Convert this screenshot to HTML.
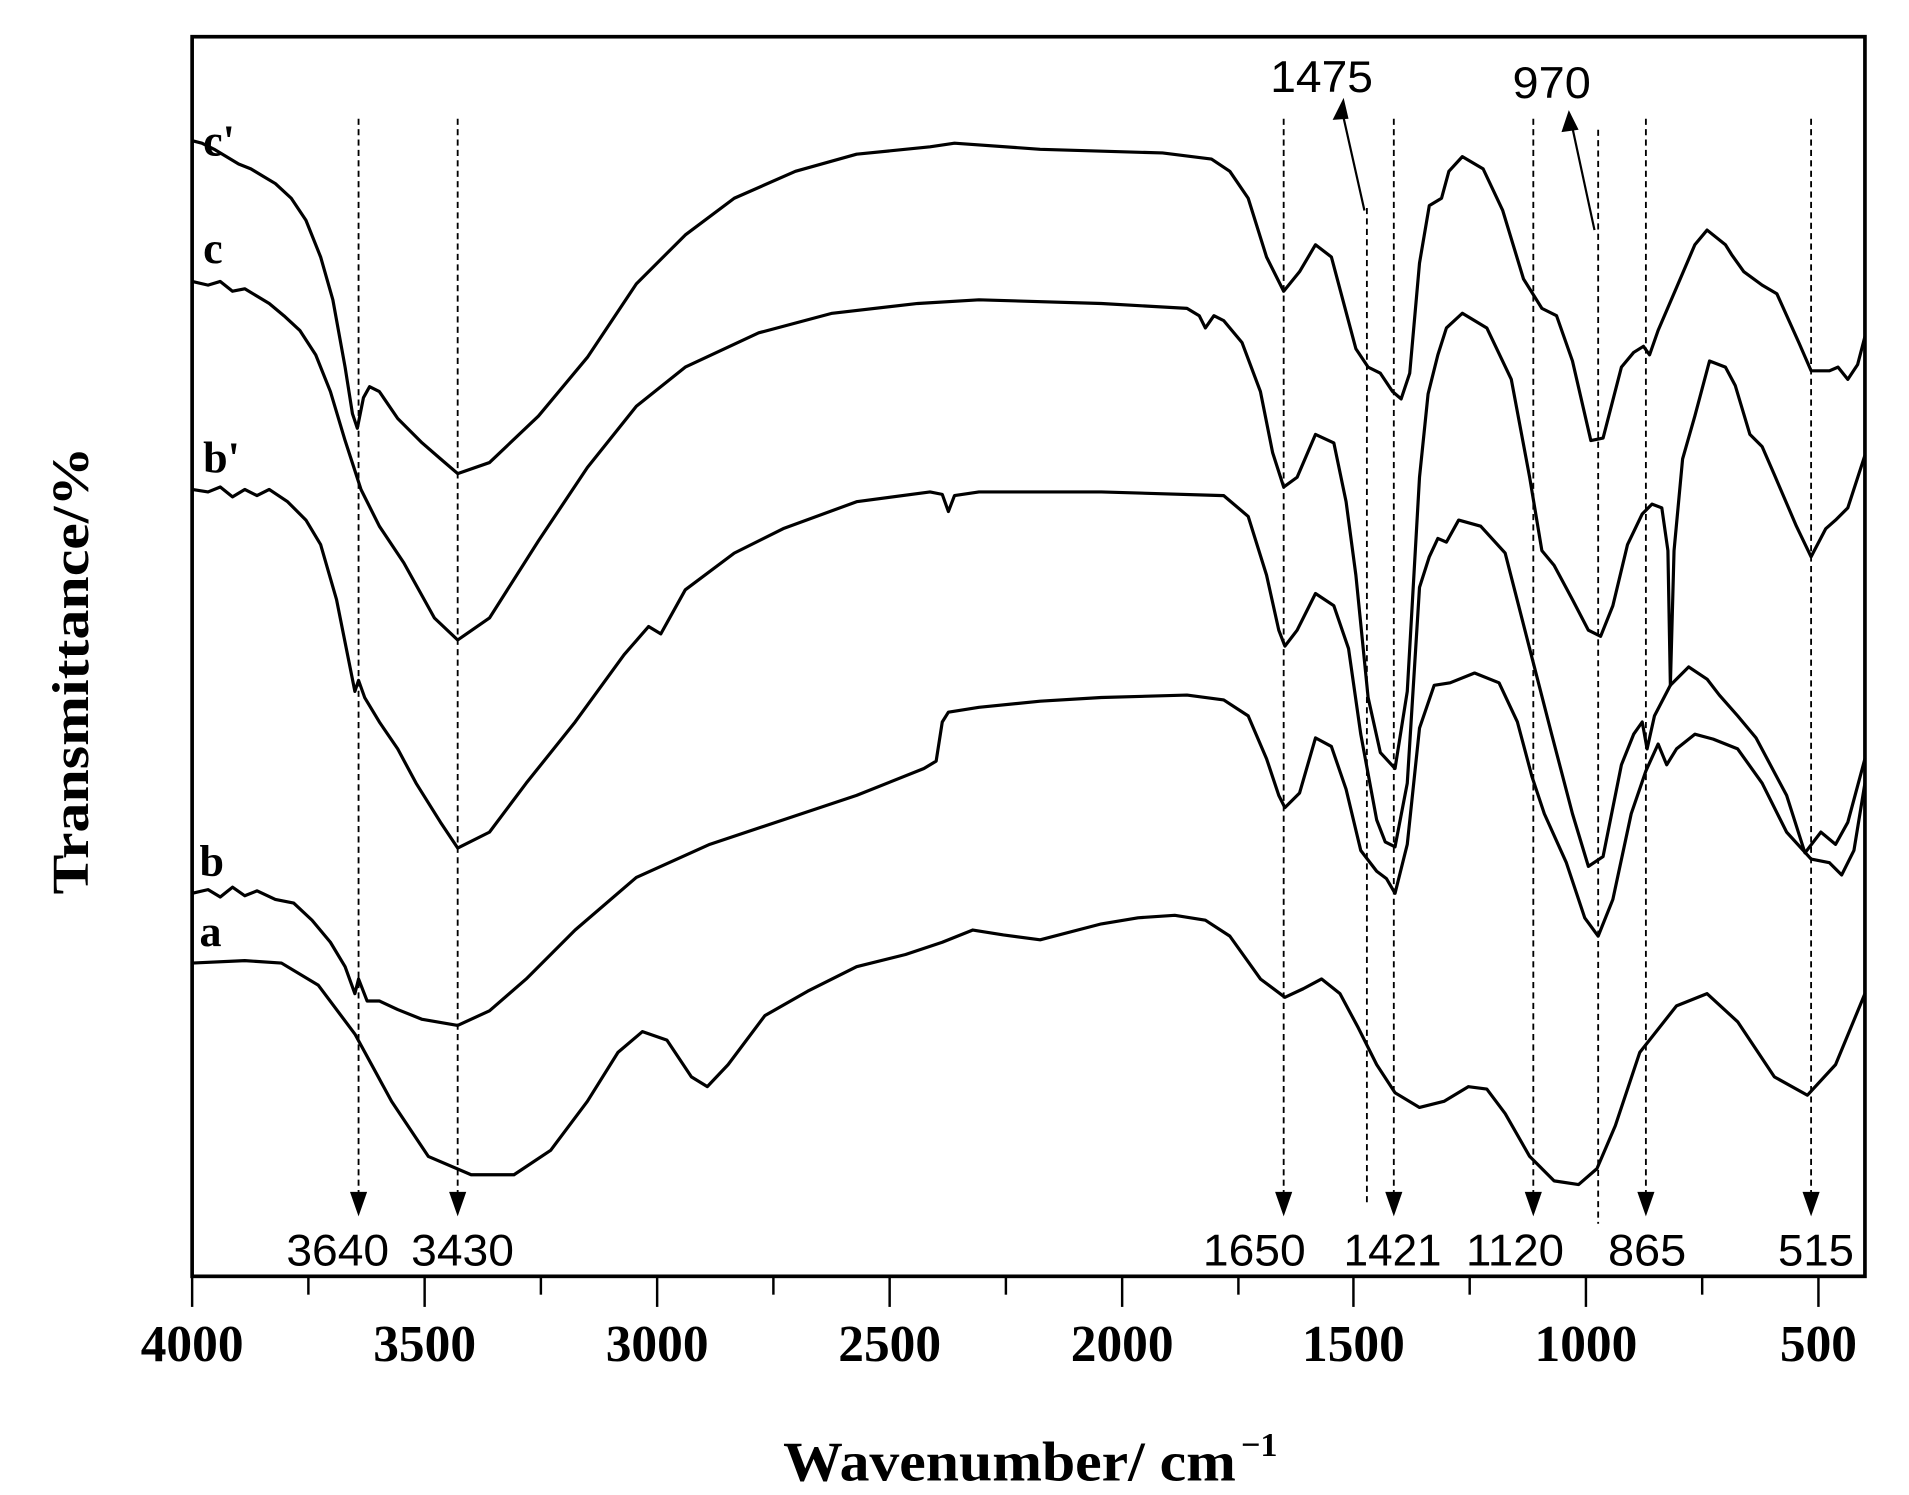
<!DOCTYPE html>
<html><head><meta charset="utf-8"><style>
html,body{margin:0;padding:0;background:#fff;}
svg{display:block;}
</style></head><body>
<svg width="1909" height="1495" viewBox="0 0 1560 1221.7" xmlns="http://www.w3.org/2000/svg">
<rect width="1560" height="1222" fill="#fff"/>
<g fill="none" stroke="#000" stroke-width="1.5" stroke-dasharray="5,3.5">
<line x1="293" y1="97" x2="293" y2="975"/>
<line x1="374" y1="97" x2="374" y2="975"/>
<line x1="1049" y1="97" x2="1049" y2="975"/>
<line x1="1117" y1="170" x2="1117" y2="985"/>
<line x1="1139" y1="97" x2="1139" y2="975"/>
<line x1="1253" y1="97" x2="1253" y2="975"/>
<line x1="1306" y1="106" x2="1306" y2="1000"/>
<line x1="1345" y1="97" x2="1345" y2="975"/>
<line x1="1480" y1="97" x2="1480" y2="975"/>
</g>
<g fill="#000">
<polygon points="286,974 300,974 293,994"/>
<polygon points="367,974 381,974 374,994"/>
<polygon points="1042,974 1056,974 1049,994"/>
<polygon points="1132,974 1146,974 1139,994"/>
<polygon points="1246,974 1260,974 1253,994"/>
<polygon points="1338,974 1352,974 1345,994"/>
<polygon points="1473,974 1487,974 1480,994"/>
<polygon points="1089,98 1098,80 1102,97"/>
<polygon points="1276,108 1282,90 1290,106"/>
</g>
<g stroke="#000" stroke-width="1.8">
<line x1="1115" y1="172" x2="1097" y2="92"/>
<line x1="1303" y1="188" x2="1284" y2="100"/>
</g>
<g fill="none" stroke="#000" stroke-width="2.6" stroke-linejoin="round" stroke-linecap="round">
<polyline points="157,787 200,785 230,787 260,805 290,845 320,900 350,945 385,960 420,960 450,940 480,900 505,860 525,843 545,850 565,880 578,888 595,870 625,830 660,810 700,790 740,780 770,770 795,760 820,764 850,768 900,755 930,750 960,748 985,752 1005,765 1030,800 1050,815 1065,808 1080,800 1095,812 1110,840 1125,870 1140,893 1160,905 1180,900 1200,888 1215,890 1230,910 1250,945 1270,965 1290,968 1305,955 1320,920 1340,860 1370,822 1395,812 1420,835 1450,880 1477,895 1500,870 1524,812"/>
<polyline points="157,730 170,727 180,733 190,725 200,732 210,728 225,735 240,738 255,752 270,770 282,790 290,812 293,800 300,818 310,818 325,825 345,833 374,838 400,826 430,800 470,760 520,717 580,690 640,670 700,650 755,628 765,622 770,590 775,582 800,578 850,573 900,570 970,568 1000,572 1020,585 1035,620 1045,650 1050,660 1062,648 1075,603 1088,610 1100,645 1112,695 1125,712 1133,718 1140,730 1150,690 1160,595 1172,560 1185,558 1205,550 1225,558 1240,590 1252,635 1262,665 1280,705 1295,750 1306,765 1318,735 1333,665 1345,630 1355,608 1362,625 1370,612 1385,600 1400,604 1420,612 1440,640 1460,680 1480,702 1495,705 1505,715 1515,695 1524,640"/>
<polyline points="157,400 170,402 180,398 190,406 200,400 210,405 220,400 235,410 250,425 262,445 275,490 285,540 290,565 293,556 298,570 310,590 325,612 340,640 360,672 374,693 400,680 430,640 470,590 510,535 530,512 540,518 560,482 600,452 640,432 700,410 760,402 770,404 775,418 780,405 800,402 900,402 1000,405 1020,422 1035,470 1045,515 1050,528 1060,515 1075,485 1090,495 1102,530 1112,600 1125,670 1132,688 1140,692 1150,640 1160,480 1168,455 1175,440 1182,443 1192,425 1210,430 1230,452 1250,530 1268,600 1285,665 1298,708 1310,700 1325,625 1335,600 1342,590 1346,612 1352,585 1365,560 1380,545 1395,555 1405,568 1420,585 1435,603 1460,650 1475,697 1488,680 1500,690 1510,672 1524,620"/>
<polyline points="157,230 170,233 180,230 190,238 200,236 210,242 220,248 232,258 245,270 258,290 270,320 282,360 295,400 310,430 330,460 355,505 374,523 400,505 440,442 480,382 520,332 560,300 620,272 680,256 750,248 800,245 900,248 970,252 980,258 985,268 992,258 1000,262 1015,280 1030,320 1040,370 1049,398 1060,390 1075,355 1090,362 1100,410 1108,470 1118,570 1128,615 1140,628 1150,565 1160,390 1167,322 1175,290 1182,268 1195,256 1215,268 1235,310 1250,390 1260,450 1270,462 1285,490 1298,515 1308,520 1318,495 1330,445 1342,420 1350,412 1358,415 1363,450 1365,560 1368,450 1375,375 1385,340 1397,295 1410,300 1418,315 1430,355 1440,365 1450,388 1468,430 1480,455 1492,432 1500,425 1510,415 1524,372"/>
<polyline points="157,115 165,117 175,122 185,128 195,134 205,138 215,144 225,150 238,162 250,180 262,210 272,245 282,300 288,338 292,350 297,325 302,316 310,320 325,342 345,362 360,375 374,387 400,378 440,340 480,292 520,232 560,192 600,162 650,140 700,126 760,120 780,117 850,122 950,125 990,130 1005,140 1020,162 1035,210 1049,238 1062,222 1075,200 1088,210 1100,255 1108,285 1118,300 1128,305 1138,320 1145,326 1152,305 1160,215 1168,168 1178,162 1184,140 1195,128 1212,138 1228,172 1245,228 1260,252 1272,258 1285,295 1300,360 1310,358 1325,300 1335,288 1343,283 1348,290 1355,270 1370,235 1385,200 1395,188 1410,200 1415,208 1425,222 1440,233 1452,240 1470,280 1480,303 1495,303 1502,300 1510,310 1518,298 1524,275"/>
</g>
<rect x="157" y="30" width="1367" height="1013" fill="none" stroke="#000" stroke-width="3"/>
<g stroke="#000" stroke-width="2">
<line x1="157" y1="1043" x2="157" y2="1068"/><line x1="252" y1="1043" x2="252" y2="1058"/>
<line x1="347" y1="1043" x2="347" y2="1068"/><line x1="442" y1="1043" x2="442" y2="1058"/>
<line x1="537" y1="1043" x2="537" y2="1068"/><line x1="632" y1="1043" x2="632" y2="1058"/>
<line x1="727" y1="1043" x2="727" y2="1068"/><line x1="822" y1="1043" x2="822" y2="1058"/>
<line x1="917" y1="1043" x2="917" y2="1068"/><line x1="1012" y1="1043" x2="1012" y2="1058"/>
<line x1="1106" y1="1043" x2="1106" y2="1068"/><line x1="1201" y1="1043" x2="1201" y2="1058"/>
<line x1="1296" y1="1043" x2="1296" y2="1068"/><line x1="1391" y1="1043" x2="1391" y2="1058"/>
<line x1="1486" y1="1043" x2="1486" y2="1068"/>
</g>
<g font-family="Liberation Serif, serif" font-weight="bold" font-size="42" text-anchor="middle" lengthAdjust="spacingAndGlyphs">
<text x="157" y="1112" textLength="84" lengthAdjust="spacingAndGlyphs">4000</text>
<text x="347" y="1112" textLength="84" lengthAdjust="spacingAndGlyphs">3500</text>
<text x="537" y="1112" textLength="84" lengthAdjust="spacingAndGlyphs">3000</text>
<text x="727" y="1112" textLength="84" lengthAdjust="spacingAndGlyphs">2500</text>
<text x="917" y="1112" textLength="84" lengthAdjust="spacingAndGlyphs">2000</text>
<text x="1106" y="1112" textLength="84" lengthAdjust="spacingAndGlyphs">1500</text>
<text x="1296" y="1112" textLength="84" lengthAdjust="spacingAndGlyphs">1000</text>
<text x="1486" y="1112" textLength="63" lengthAdjust="spacingAndGlyphs">500</text>
</g>
<text x="640" y="1210" font-family="Liberation Serif, serif" font-weight="bold" font-size="46" textLength="370" lengthAdjust="spacingAndGlyphs">Wavenumber/ cm</text>
<text x="1014" y="1190" font-family="Liberation Serif, serif" font-weight="bold" font-size="28">−1</text>
<text transform="translate(72,548) rotate(-90)" font-family="Liberation Serif, serif" font-weight="bold" font-size="42" text-anchor="middle" textLength="366" lengthAdjust="spacingAndGlyphs">Transmittance/%</text>
<g font-family="Liberation Serif, serif" font-weight="bold" font-size="36">
<text x="166" y="127">c'</text><text x="166" y="215">c</text><text x="166" y="386">b'</text>
<text x="163" y="716">b</text><text x="163" y="773">a</text>
</g>
<g font-family="Liberation Sans, sans-serif" font-size="36" text-anchor="middle">
<text x="276" y="1034" textLength="84" lengthAdjust="spacingAndGlyphs">3640</text>
<text x="378" y="1034" textLength="84" lengthAdjust="spacingAndGlyphs">3430</text>
<text x="1025" y="1034" textLength="84" lengthAdjust="spacingAndGlyphs">1650</text>
<text x="1138" y="1034" textLength="80" lengthAdjust="spacingAndGlyphs">1421</text>
<text x="1238" y="1034" textLength="80" lengthAdjust="spacingAndGlyphs">1120</text>
<text x="1346" y="1034" textLength="64" lengthAdjust="spacingAndGlyphs">865</text>
<text x="1484" y="1034" textLength="62" lengthAdjust="spacingAndGlyphs">515</text>
<text x="1080" y="75" textLength="84" lengthAdjust="spacingAndGlyphs">1475</text>
<text x="1268" y="80" textLength="64" lengthAdjust="spacingAndGlyphs">970</text>
</g>
</svg>
</body></html>
